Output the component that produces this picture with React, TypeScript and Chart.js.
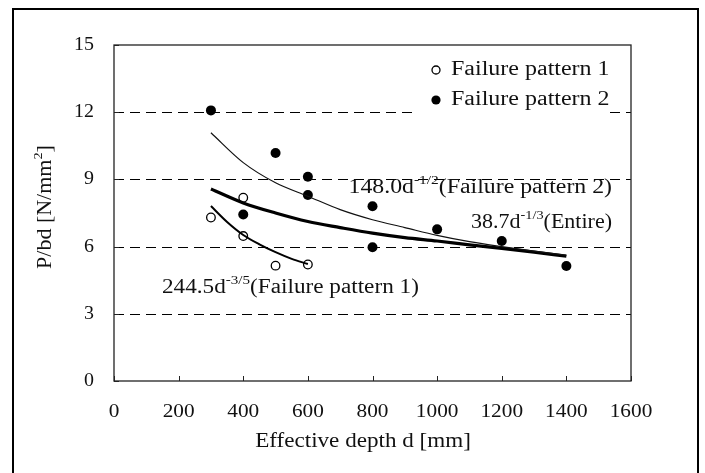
import React, { useEffect, useRef } from "react";
import { Chart, registerables } from "chart.js";
Chart.register(...registerables);

const pattern1D = [300, 400, 400, 500, 600];
const pattern1V = [7.3, 8.18, 6.47, 5.15, 5.2];
const pattern2D = [300, 400, 500, 600, 600, 800, 800, 1000, 1200, 1400];
const pattern2V = [12.08, 7.43, 10.18, 9.12, 8.3, 7.8, 5.97, 6.77, 6.25, 5.13];

// Fitted curves
const curveP2D = [300, 400, 500, 600, 700, 800, 900, 1000, 1100, 1200, 1300, 1400];
const curveP2V = [11.08, 9.75, 8.85, 8.25, 7.65, 7.2, 6.85, 6.5, 6.22, 6.0, 5.8, 5.62];
const curveAllD = [300, 400, 500, 600, 700, 800, 900, 1000, 1100, 1200, 1300, 1400];
const curveAllV = [8.57, 7.95, 7.5, 7.12, 6.85, 6.6, 6.4, 6.25, 6.08, 5.92, 5.75, 5.57];
const curveP1D = [300, 350, 400, 450, 500, 550, 600];
const curveP1V = [7.81, 7.1, 6.52, 6.1, 5.75, 5.45, 5.22];

const xTicks = [0, 200, 400, 600, 800, 1000, 1200, 1400, 1600];
const yTicks = [0, 3, 6, 9, 12, 15];
const gridValues = [3, 6, 9, 12];

const legendLabels = ["Failure pattern 1", "Failure pattern 2"];
const xTitle = "Effective depth d [mm]";

const FONT = '"Liberation Serif", "DejaVu Serif", serif';

type Seg = { t: string; sup?: boolean };

function richWidth(ctx: CanvasRenderingContext2D, segs: Seg[], size: number, sx: number) {
  let w = 0;
  for (const s of segs) {
    ctx.font = `${s.sup ? Math.round(size * 0.65) : size}px ${FONT}`;
    w += ctx.measureText(s.t).width * sx;
  }
  return w;
}

function drawRich(
  ctx: CanvasRenderingContext2D,
  segs: Seg[],
  x: number,
  y: number,
  size: number,
  align: "left" | "center" | "right",
  sx = 1.1
) {
  const w = richWidth(ctx, segs, size, sx);
  let cx = align === "center" ? x - w / 2 : align === "right" ? x - w : x;
  ctx.save();
  ctx.fillStyle = "#111";
  ctx.textBaseline = "middle";
  ctx.textAlign = "left";
  for (const s of segs) {
    const fs = s.sup ? Math.round(size * 0.65) : size;
    ctx.font = `${fs}px ${FONT}`;
    const sw = ctx.measureText(s.t).width * sx;
    ctx.save();
    ctx.translate(cx, s.sup ? y - size * 0.38 : y);
    ctx.scale(sx, 1);
    ctx.fillText(s.t, 0, 0);
    ctx.restore();
    cx += sw;
  }
  ctx.restore();
}

const decorPlugin = {
  id: "decor",
  beforeDraw(chart: any) {
    const ctx = chart.ctx as CanvasRenderingContext2D;
    ctx.save();
    ctx.fillStyle = "#fff";
    ctx.fillRect(0, 0, chart.width, chart.height);
    ctx.restore();
  },
  beforeDatasetsDraw(chart: any) {
    const ctx = chart.ctx as CanvasRenderingContext2D;
    const { left, right, top, bottom } = chart.chartArea;
    const xs = chart.scales.x;
    const ys = chart.scales.y;
    ctx.save();
    ctx.strokeStyle = "#000";
    ctx.lineWidth = 1;
    ctx.setLineDash([10, 6]);
    for (const v of gridValues) {
      const py = Math.round(ys.getPixelForValue(v)) + 0.5;
      ctx.beginPath();
      ctx.moveTo(left, py);
      ctx.lineTo(right, py);
      ctx.stroke();
    }
    ctx.setLineDash([]);
    ctx.fillStyle = "#fff";
    ctx.fillRect(418, 52, 189, 64);
    ctx.strokeStyle = "#222";
    ctx.lineWidth = 1.3;
    ctx.strokeRect(left, top, right - left, bottom - top);
    ctx.lineWidth = 1;
    for (const v of xTicks) {
      const px = Math.round(xs.getPixelForValue(v)) + 0.5;
      ctx.beginPath();
      ctx.moveTo(px, bottom);
      ctx.lineTo(px, bottom - 5);
      ctx.stroke();
    }
    for (const v of yTicks) {
      const py = Math.round(ys.getPixelForValue(v)) + 0.5;
      ctx.beginPath();
      ctx.moveTo(left, py);
      ctx.lineTo(left + 5, py);
      ctx.stroke();
    }
    ctx.restore();
  },
  afterDatasetsDraw(chart: any) {
    const ctx = chart.ctx as CanvasRenderingContext2D;
    const { left, bottom } = chart.chartArea;
    const xs = chart.scales.x;
    const ys = chart.scales.y;
    for (const v of xTicks) {
      drawRich(ctx, [{ t: String(v) }], xs.getPixelForValue(v), bottom + 31, 19, "center", 1.12);
    }
    for (const v of yTicks) {
      drawRich(ctx, [{ t: String(v) }], left - 20, ys.getPixelForValue(v), 19, "right", 1.05);
    }
    drawRich(ctx, [{ t: xTitle }], 363, 441, 21, "center", 1.1);
    ctx.save();
    ctx.translate(46, 207);
    ctx.rotate(-Math.PI / 2);
    drawRich(ctx, [{ t: "P/bd [N/mm" }, { t: "2", sup: true }, { t: "]" }], 0, 0, 20, "center", 1.1);
    ctx.restore();
    // legend
    ctx.save();
    ctx.strokeStyle = "#000";
    ctx.lineWidth = 1.3;
    ctx.fillStyle = "#fff";
    ctx.beginPath();
    ctx.arc(436, 70, 4, 0, Math.PI * 2);
    ctx.fill();
    ctx.stroke();
    ctx.fillStyle = "#000";
    ctx.beginPath();
    ctx.arc(436, 100, 4.6, 0, Math.PI * 2);
    ctx.fill();
    ctx.restore();
    drawRich(ctx, [{ t: legendLabels[0] }], 451, 70, 20, "left", 1.2);
    drawRich(ctx, [{ t: legendLabels[1] }], 451, 100, 20, "left", 1.2);
    drawRich(ctx, [{ t: "148.0d" }, { t: "-1/2", sup: true }, { t: "(Failure pattern 2)" }], 612, 188, 20, "right", 1.19);
    drawRich(ctx, [{ t: "38.7d" }, { t: "-1/3", sup: true }, { t: "(Entire)" }], 612, 223, 20, "right", 1.1);
    drawRich(ctx, [{ t: "244.5d" }, { t: "-3/5", sup: true }, { t: "(Failure pattern 1)" }], 162, 288, 20, "left", 1.16);
    ctx.save();
    ctx.strokeStyle = "#000";
    ctx.lineWidth = 2;
    ctx.strokeRect(13, 9, 685, 480);
    ctx.restore();
  },
};

export default function App() {
  const ref = useRef<HTMLCanvasElement | null>(null);
  useEffect(() => {
    document.body.style.margin = "0";
    const canvas = ref.current;
    if (!canvas) return;
    const pts = (ds: number[], vs: number[]) => ds.map((d, i) => ({ x: d, y: vs[i] }));
    const chart = new Chart(canvas, {
      type: "scatter",
      data: {
        datasets: [
          {
            label: "curve2",
            data: pts(curveP2D, curveP2V),
            showLine: true,
            borderColor: "#111",
            borderWidth: 1.2,
            pointRadius: 0,
            cubicInterpolationMode: "monotone",
          } as any,
          {
            label: "curveAll",
            data: pts(curveAllD, curveAllV),
            showLine: true,
            borderColor: "#000",
            borderWidth: 3.2,
            pointRadius: 0,
            cubicInterpolationMode: "monotone",
          } as any,
          {
            label: "curve1",
            data: pts(curveP1D, curveP1V),
            showLine: true,
            borderColor: "#000",
            borderWidth: 2,
            pointRadius: 0,
            cubicInterpolationMode: "monotone",
          } as any,
          {
            label: legendLabels[0],
            data: pts(pattern1D, pattern1V),
            pointRadius: 4.3,
            pointBackgroundColor: "#fff",
            pointBorderColor: "#000",
            pointBorderWidth: 1.3,
          } as any,
          {
            label: legendLabels[1],
            data: pts(pattern2D, pattern2V),
            pointRadius: 5,
            pointBackgroundColor: "#000",
            pointBorderColor: "#000",
            pointBorderWidth: 0,
          } as any,
        ],
      },
      options: {
        animation: false,
        responsive: false,
        devicePixelRatio: 1,
        layout: { padding: { left: 114, top: 45, right: 74, bottom: 92 } },
        plugins: { legend: { display: false }, tooltip: { enabled: false } },
        scales: {
          x: { type: "linear", min: 0, max: 1600, display: false },
          y: { type: "linear", min: 0, max: 15, display: false },
        },
      },
      plugins: [decorPlugin],
    });
    return () => chart.destroy();
  }, []);
  return <canvas ref={ref} width={705} height={473} style={{ display: "block" }} />;
}
